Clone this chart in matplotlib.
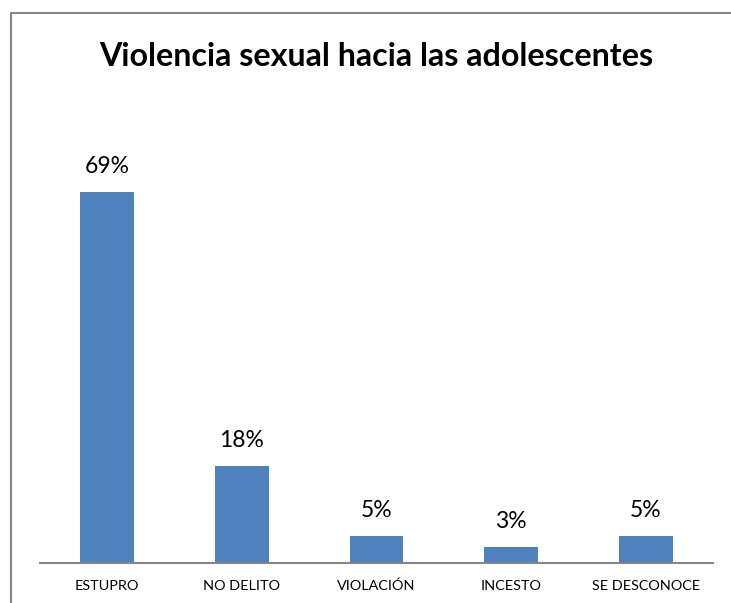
import matplotlib
matplotlib.use("Agg")
import matplotlib.pyplot as plt
from matplotlib.patches import Rectangle

categories = ["ESTUPRO", "NO DELITO", "VIOLACIÓN", "INCESTO", "SE DESCONOCE"]
values = [69, 18, 5, 3, 5]
labels = ["69%", "18%", "5%", "3%", "5%"]

plt.rcParams['font.family'] = ['Lato', 'DejaVu Sans']

W, H = 731, 603
fig = plt.figure(figsize=(W/100, H/100), dpi=100)

# Outer border (partially cropped)
fig.patches.append(Rectangle((11/W, -0.1), 2, 1 - 13/H + 0.1, transform=fig.transFigure,
                             fill=False, edgecolor='#868686', linewidth=1.5))

ax = fig.add_axes([40/W, (H-563)/H, (713-40)/W, (563-133)/H])
ax.bar(range(len(values)), values, width=0.4, color='#4F81BD')
ax.set_xlim(-0.5, len(values)-0.5)
ax.set_ylim(0, 80)
for i, (v, l) in enumerate(zip(values, labels)):
    ax.annotate(l, (i, v), xytext=(0, 11), textcoords='offset points',
                ha='center', va='bottom', fontsize=16.5, color='black')
ax.set_xticks(range(len(values)))
ax.set_xticklabels(categories, fontsize=10.4)
ax.tick_params(axis='x', length=0, pad=12)
ax.set_yticks([])
for s in ['top', 'right', 'left']:
    ax.spines[s].set_visible(False)
ax.spines['bottom'].set_color('#868686')
ax.spines['bottom'].set_linewidth(1.5)

fig.text(376/W, 1 - 56/H, "Violencia sexual hacia las adolescentes", ha='center', va='center',
         fontsize=23.2, fontweight='bold')

fig.savefig("out.png", dpi=100)
